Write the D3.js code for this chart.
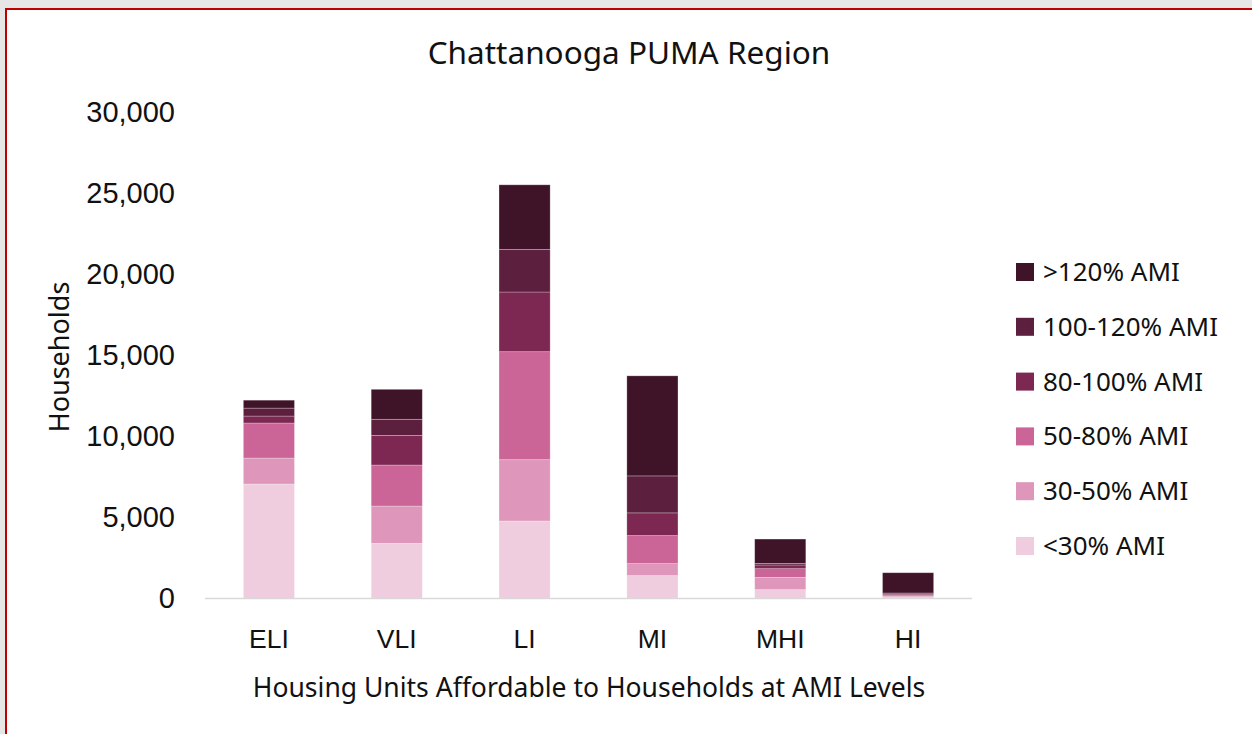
<!DOCTYPE html>
<html>
<head>
<meta charset="utf-8">
<script src="https://cdn.jsdelivr.net/npm/d3@7"></script>
<style>
  body { margin: 0; background: #e6e6e6; }
  svg { display: block; }
  .tick text { font-family: "Liberation Sans", Arial, sans-serif; }
  .lbl { font-family: "Noto Sans", sans-serif; fill: #111; }
</style>
</head>
<body>
<div id="chart"></div>
<script>
// categories along the x axis
var categories = ["ELI", "VLI", "LI", "MI", "MHI", "HI"];
// stack series, bottom to top
var seriesNames = ["<30% AMI", "30-50% AMI", "50-80% AMI", "80-100% AMI", "100-120% AMI", ">120% AMI"];
var colors = ["#efcddf", "#de97bb", "#cb6598", "#7d2852", "#5c1f3e", "#3f1429"];

// households per series, one value per category
var lt30    = [7060, 3400, 4780, 1410, 545, 60];
var r30_50  = [1600, 2300, 3780, 740, 760, 80];
var r50_80  = [2160, 2530, 6660, 1730, 535, 80];
var r80_100 = [430, 1830, 3680, 1400, 226, 60];
var r100_120 = [490, 990, 2630, 2280, 100, 60];
var gt120   = [490, 1850, 3980, 6170, 1500, 1250];

var yTicks = [0, 5000, 10000, 15000, 20000, 25000, 30000];

var W = 1252, H = 734;
var margin = {top: 112, right: 280, bottom: 135, left: 205};

var svg = d3.select("#chart").append("svg")
  .attr("width", W)
  .attr("height", H);

// frame
svg.append("rect")
  .attr("x", 6).attr("y", 9)
  .attr("width", W + 20).attr("height", H + 20)
  .style("fill", "#fff")
  .style("stroke", "#c00000")
  .style("stroke-width", 2);

var rows = categories.map(function(c, i) {
  return {
    cat: c,
    "<30% AMI": lt30[i],
    "30-50% AMI": r30_50[i],
    "50-80% AMI": r50_80[i],
    "80-100% AMI": r80_100[i],
    "100-120% AMI": r100_120[i],
    ">120% AMI": gt120[i]
  };
});

var stack = d3.stack().keys(seriesNames)(rows);

var x = d3.scaleBand()
  .domain(categories)
  .range([margin.left, 972])
  .paddingInner(0.6)
  .paddingOuter(0.3);

var y = d3.scaleLinear()
  .domain([0, 30000])
  .range([598.5, 112]);

var color = d3.scaleOrdinal().domain(seriesNames).range(colors);

// y axis (labels only)
var yAxis = svg.append("g")
  .attr("transform", "translate(" + 175 + ",0)")
  .call(d3.axisLeft(y).tickValues(yTicks).tickFormat(d3.format(",")).tickSize(0));
yAxis.select(".domain").remove();
yAxis.selectAll("text")
  .style("font-size", "29px")
  .style("fill", "#111")
  .attr("x", 0);

// bars
svg.append("g")
  .selectAll("g")
  .data(stack)
  .enter().append("g")
  .style("fill", function(d) { return color(d.key); })
  .selectAll("rect")
  .data(function(d) { return d; })
  .enter().append("rect")
  .attr("x", function(d) { return x(d.data.cat); })
  .attr("y", function(d) { return y(d[1]); })
  .attr("height", function(d) { return y(d[0]) - y(d[1]); })
  .attr("width", x.bandwidth())
  .style("stroke", "#ffffff")
  .style("stroke-opacity", 0.35)
  .style("stroke-width", 0.75);

// baseline
svg.append("line")
  .attr("x1", margin.left).attr("x2", 972)
  .attr("y1", y(0)).attr("y2", y(0))
  .style("stroke", "#d9d9d9")
  .style("stroke-width", 1.5);

// x axis labels
var xAxis = svg.append("g")
  .attr("transform", "translate(0," + y(0) + ")")
  .call(d3.axisBottom(x).tickSize(0));
xAxis.select(".domain").remove();
xAxis.selectAll("text")
  .attr("class", "lbl")
  .attr("dy", null)
  .attr("y", 49)
  .style("font-size", "26.5px");

// title
svg.append("text")
  .attr("class", "lbl")
  .attr("x", 629).attr("y", 64)
  .attr("text-anchor", "middle")
  .style("font-size", "31.5px")
  .text("Chattanooga PUMA Region");

// axis titles
svg.append("text")
  .attr("class", "lbl")
  .attr("x", 589).attr("y", 697)
  .attr("text-anchor", "middle")
  .style("font-size", "26.5px")
  .text("Housing Units Affordable to Households at AMI Levels");

svg.append("text")
  .attr("class", "lbl")
  .attr("transform", "translate(69,357) rotate(-90)")
  .attr("text-anchor", "middle")
  .style("font-size", "27px")
  .text("Households");

// legend, top entry is the top of the stack
var legend = svg.append("g")
  .selectAll("g")
  .data(seriesNames.slice().reverse())
  .enter().append("g")
  .attr("transform", function(d, i) { return "translate(1016," + (272 + i * 54.8) + ")"; });

legend.append("rect")
  .attr("x", 0).attr("y", -9)
  .attr("width", 18).attr("height", 18)
  .style("fill", function(d) { return color(d); });

legend.append("text")
  .attr("class", "lbl")
  .attr("x", 27).attr("y", 9)
  .style("font-size", "26px")
  .text(function(d) { return d; });
</script>
</body>
</html>
